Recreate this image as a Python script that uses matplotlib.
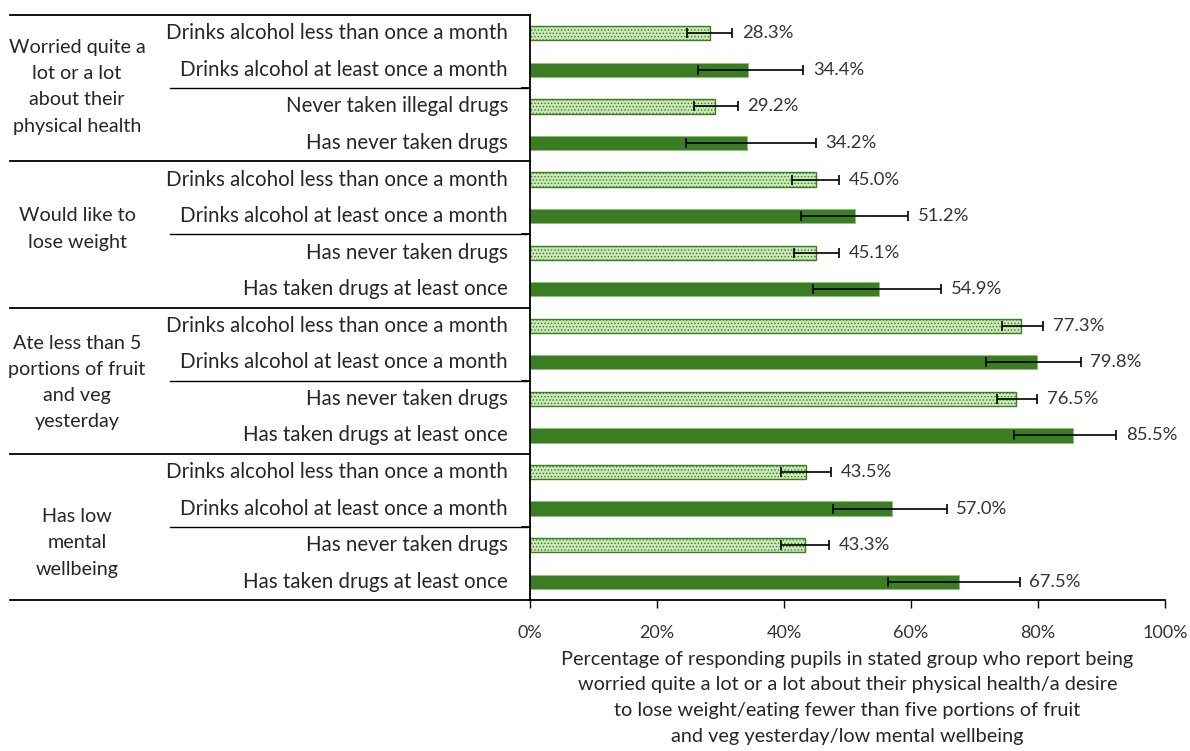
import numpy as np
import matplotlib
matplotlib.use("Agg")
import matplotlib.pyplot as plt
from matplotlib.transforms import blended_transform_factory

plt.rcParams['font.family'] = ['Lato', 'DejaVu Sans']
plt.rcParams['hatch.linewidth'] = 0.6

# ---------------------------------------------------------------------------
# Data
# ---------------------------------------------------------------------------
groups = [
    "Worried quite a\nlot or a lot\nabout their\nphysical health",
    "Would like to\nlose weight",
    "Ate less than 5\nportions of fruit\nand veg\nyesterday",
    "Has low\nmental\nwellbeing",
]
sub_labels = [
    "Drinks alcohol less than once a month",
    "Drinks alcohol at least once a month",
    "Never taken illegal drugs",
    "Has never taken drugs",
    "Drinks alcohol less than once a month",
    "Drinks alcohol at least once a month",
    "Has never taken drugs",
    "Has taken drugs at least once",
    "Drinks alcohol less than once a month",
    "Drinks alcohol at least once a month",
    "Has never taken drugs",
    "Has taken drugs at least once",
    "Drinks alcohol less than once a month",
    "Drinks alcohol at least once a month",
    "Has never taken drugs",
    "Has taken drugs at least once",
]
values = [28.3, 34.4, 29.2, 34.2,
          45.0, 51.2, 45.1, 54.9,
          77.3, 79.8, 76.5, 85.5,
          43.5, 57.0, 43.3, 67.5]
ci_low = [24.7, 26.5, 25.8, 24.6,
          41.2, 42.6, 41.6, 44.6,
          74.3, 71.8, 73.5, 76.2,
          39.5, 47.7, 39.5, 56.4]
ci_high = [31.8, 43.0, 32.7, 45.0,
           48.7, 59.5, 48.7, 64.8,
           80.8, 86.7, 79.9, 92.3,
           47.4, 65.6, 47.1, 77.1]
# lower-risk rows (hatched) alternate with higher-risk rows (solid)
low_risk = [True, False] * 8
xticks = [0, 20, 40, 60, 80, 100]
xlabel = ("Percentage of responding pupils in stated group who report being\n"
          "worried quite a lot or a lot about their physical health/a desire\n"
          "to lose weight/eating fewer than five portions of fruit\n"
          "and veg yesterday/low mental wellbeing")

DARK = '#3b7d23'
LIGHT = '#c9e7b8'
TXT = '#262626'

fig = plt.figure(figsize=(11.9, 7.51), dpi=100)
ax = fig.add_axes([530 / 1190, 1 - 600 / 751, 635 / 1190, 585 / 751])

vals = np.array(values)
lo = np.array(ci_low)
hi = np.array(ci_high)
y = np.arange(len(vals))

for i in range(len(vals)):
    if low_risk[i]:
        ax.barh(y[i], vals[i], height=0.39, color=LIGHT, edgecolor=DARK,
                hatch='.....', lw=1.0, zorder=2)
    else:
        ax.barh(y[i], vals[i], height=0.39, color=DARK, edgecolor='#8fbf7a',
                lw=0.6, zorder=2)

ax.errorbar(vals, y, xerr=[vals - lo, hi - vals], fmt='none', ecolor='black',
            elinewidth=1.2, capsize=3.5, capthick=1.2, zorder=3)

for i in range(len(vals)):
    ax.annotate(f"{vals[i]:.1f}%", (hi[i], y[i]), xytext=(7, 0),
                textcoords='offset points', va='center', ha='left',
                fontsize=13.3, color='#333333')

ax.set_xlim(0, 100)
ax.set_ylim(len(vals) - 0.5, -0.5)
ax.set_xticks(xticks)
ax.set_xticklabels([f"{t}%" for t in xticks], fontsize=13, color='#333333')
ax.tick_params(axis='x', length=6, width=1, pad=12, color='black')
ax.set_yticks([])
for s in ['top', 'right']:
    ax.spines[s].set_visible(False)
ax.spines['left'].set_linewidth(1.3)
ax.spines['bottom'].set_linewidth(1.3)
ax.set_xlabel(xlabel, fontsize=14.3, color=TXT, linespacing=1.62,
              labelpad=7)

# left-hand category table
tr = blended_transform_factory(fig.transFigure, ax.transData)
for i, lab in enumerate(sub_labels):
    fig.text(508 / 1190, y[i], lab, transform=tr, ha='right', va='center',
             fontsize=14.8, color=TXT)

# vertical centre of each group name (in row units)
group_mid = [1.46, 5.35, 9.55, 13.94]
for g, name in enumerate(groups):
    fig.text(77 / 1190, group_mid[g], name, transform=tr, ha='center',
             va='center', fontsize=14.2, color=TXT, linespacing=1.66)
    # separator between the alcohol pair and the drugs pair
    yc = g * 4 + 1.5
    fig.add_artist(plt.Line2D([170 / 1190, 527 / 1190], [yc, yc],
                              color='black', lw=1.0, transform=tr))
    fig.add_artist(plt.Line2D([522 / 1190, 530 / 1190], [yc, yc],
                              color='black', lw=1.3, transform=tr))

# group top lines and bottom line
for yy in [-0.5, 3.5, 7.5, 11.5, 15.5]:
    fig.add_artist(plt.Line2D([10 / 1190, 530 / 1190], [yy, yy],
                              color='black', lw=1.3, transform=tr))

fig.savefig('out.png', dpi=100)
